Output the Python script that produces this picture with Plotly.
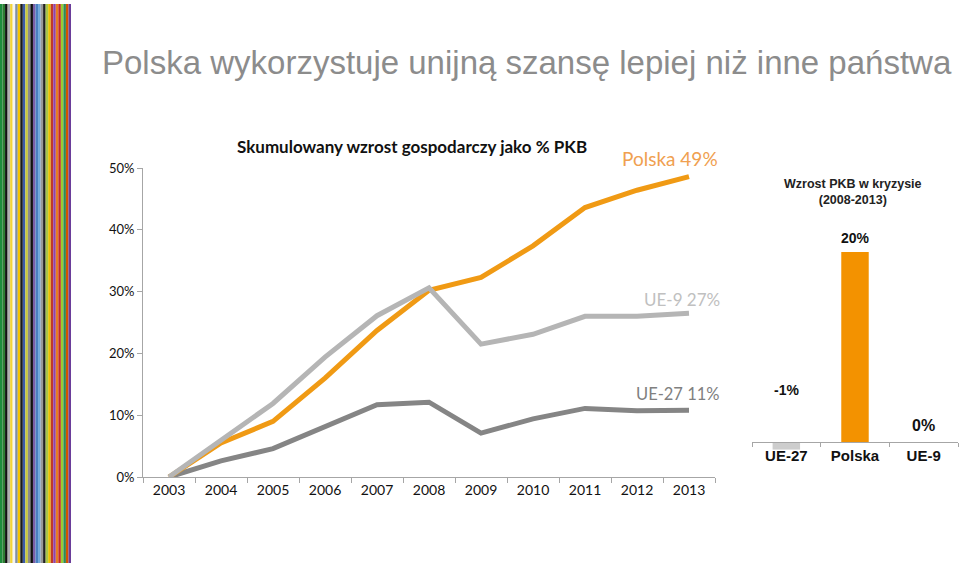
import plotly.graph_objects as go

W, H = 960, 571
# the page is photographed with the plotting area mapped to rows 8..563
TOP_OFF, H_EFF = 8, 555

def px(x):
    return x / W

def py(y):
    return 1 - (y - TOP_OFF) / H_EFF

# ---------------- data ----------------
years = [str(y) for y in range(2003, 2014)]
polska = [0, 5.5, 9.0, 16.0, 23.7, 30.2, 32.3, 37.4, 43.6, 46.4, 48.6]
ue9 = [0, 6.0, 11.9, 19.4, 26.1, 30.6, 21.5, 23.1, 26.0, 26.0, 26.5]
ue27 = [0, 2.6, 4.6, 8.2, 11.7, 12.1, 7.1, 9.4, 11.1, 10.7, 10.8]

bar_cats = ["UE-27", "Polska", "UE-9"]
bar_values = [-0.8, 20.0, 0.0]
bar_labels = ["-1%", "20%", "0%"]

stripe_colors = ["#1E8C3C", "#2E7D32", "#111111", "#B0B0B0", "#F2D43A", "#F4F4F4",
                 "#7F8FA6", "#F5C400", "#1A1A1A", "#3B5BA9", "#C9C93A", "#8B8B8B",
                 "#111111", "#7B5EA7", "#4A7FC1", "#6FA8DC", "#999999", "#222222",
                 "#A8C64A", "#E8C000", "#C0392B", "#8E44AD", "#E67E22", "#C62828",
                 "#9ACD32", "#2E8B57", "#D35400", "#6A3D9A"]

ORANGE = "#F09A14"
LIGHT = "#B5B5B5"
DARK = "#858585"
CAL = "Lato, 'Open Sans', sans-serif"
ARIAL = "'Liberation Sans', Arial, sans-serif"

fig = go.Figure()

fig.add_trace(go.Scatter(x=years, y=ue27, mode="lines", line=dict(color=DARK, width=5),
                         xaxis="x", yaxis="y", showlegend=False))
fig.add_trace(go.Scatter(x=years, y=polska, mode="lines", line=dict(color=ORANGE, width=5),
                         xaxis="x", yaxis="y", showlegend=False))
fig.add_trace(go.Scatter(x=years, y=ue9, mode="lines", line=dict(color=LIGHT, width=5),
                         xaxis="x", yaxis="y", showlegend=False))

fig.add_trace(go.Bar(x=bar_cats, y=bar_values, width=0.4,
                     marker=dict(color=["#CDCDCD", "#F39200", "#BDBDBD"], line=dict(width=0)),
                     xaxis="x2", yaxis="y2", showlegend=False))

y2_range = [-2, 20]
y2_dom = [py(461), py(252)]
x2_pos = y2_dom[0] + (0 - y2_range[0]) / (y2_range[1] - y2_range[0]) * (y2_dom[1] - y2_dom[0])

shapes = []
sw = 71 / len(stripe_colors)
for i, c in enumerate(stripe_colors):
    shapes.append(dict(type="rect", xref="paper", yref="paper",
                       x0=px(i * sw), x1=px((i + 1) * sw), y0=max(py(567), 0), y1=py(4),
                       fillcolor=c, line=dict(width=0), layer="below"))

annotations = [
    dict(text="Polska wykorzystuje unijną szansę lepiej niż inne państwa", x=px(100), y=py(62),
         xref="paper", yref="paper", xanchor="left", yanchor="middle", showarrow=False,
         font=dict(family=ARIAL, size=33, color="#8C8C8C")),
    dict(text="<b>Skumulowany wzrost gospodarczy jako % PKB</b>", x=px(412), y=py(146),
         xref="paper", yref="paper", xanchor="center", yanchor="middle", showarrow=False,
         font=dict(family=CAL, size=17, color="#111111")),
    dict(text="Polska 49%", x=px(670), y=py(158), xref="paper", yref="paper",
         xanchor="center", yanchor="middle", showarrow=False,
         font=dict(family=CAL, size=19, color="#F0A050")),
    dict(text="UE-9 27%", x=px(682), y=py(299), xref="paper", yref="paper",
         xanchor="center", yanchor="middle", showarrow=False,
         font=dict(family=CAL, size=17, color="#C0C0C0")),
    dict(text="UE-27 11%", x=px(678), y=py(394), xref="paper", yref="paper",
         xanchor="center", yanchor="middle", showarrow=False,
         font=dict(family=CAL, size=16.5, color="#808080")),
    dict(text="<b>Wzrost PKB w kryzysie<br>(2008-2013)</b>", x=px(853), y=py(192), xref="paper", yref="paper",
         xanchor="center", yanchor="middle", showarrow=False,
         font=dict(family=ARIAL, size=12.5, color="#222222")),
    dict(text="<b>" + bar_labels[1] + "</b>", x=bar_cats[1], y=bar_values[1], xref="x2", yref="y2",
         xanchor="center", yanchor="bottom", yshift=4, showarrow=False,
         font=dict(family=ARIAL, size=14, color="#111111")),
    dict(text="<b>" + bar_labels[0] + "</b>", x=bar_cats[0], y=5.5, xref="x2", yref="y2",
         xanchor="center", yanchor="middle", showarrow=False,
         font=dict(family=ARIAL, size=14, color="#111111")),
    dict(text="<b>" + bar_labels[2] + "</b>", x=bar_cats[2], y=bar_values[2], xref="x2", yref="y2",
         xanchor="center", yanchor="bottom", yshift=6, showarrow=False,
         font=dict(family=ARIAL, size=16, color="#111111")),
]

fig.update_layout(
    width=W, height=H,
    margin=dict(l=0, r=0, t=0, b=0),
    paper_bgcolor="white", plot_bgcolor="rgba(0,0,0,0)",
    shapes=shapes, annotations=annotations,
    xaxis=dict(domain=[px(143), px(715)], type="category", range=[-0.5, 10.5],
               showgrid=False, zeroline=False, showline=True, linecolor="#A6A6A6", linewidth=1,
               ticks="outside", tickson="boundaries", ticklen=5, tickcolor="#A6A6A6",
               tickfont=dict(family=CAL, size=14, color="#111111"), anchor="y"),
    yaxis=dict(domain=[py(477), py(168)], range=[0, 50], dtick=10, ticksuffix="%",
               showgrid=False, zeroline=False, showline=True, linecolor="#A6A6A6", linewidth=1,
               ticks="outside", ticklen=5, tickcolor="#A6A6A6",
               tickfont=dict(family=CAL, size=13, color="#111111"), anchor="x"),
    xaxis2=dict(domain=[px(752), px(958)], type="category", range=[-0.5, 2.5],
                anchor="free", position=x2_pos,
                showgrid=False, zeroline=False, showline=True, linecolor="#A6A6A6", linewidth=1,
                ticks="outside", tickson="boundaries", ticklen=4, tickcolor="#A6A6A6",
                tickprefix="<b>", ticksuffix="</b>",
                tickfont=dict(family=ARIAL, size=15, color="#111111")),
    yaxis2=dict(domain=y2_dom, range=y2_range, visible=False, anchor="x2"),
)

post = (
    "document.documentElement.style.margin='0';"
    "document.documentElement.style.padding='0';"
    "document.documentElement.style.overflow='hidden';"
    "document.body.style.margin='0';document.body.style.padding='0';"
    "document.body.style.overflow='hidden';"
    "var d=document.getElementsByClassName('plotly-graph-div')[0];"
    "d.style.position='fixed';d.style.top='0px';d.style.left='0px';"
)

fig.write_html("out.html", config={"displayModeBar": False}, post_script=post)
